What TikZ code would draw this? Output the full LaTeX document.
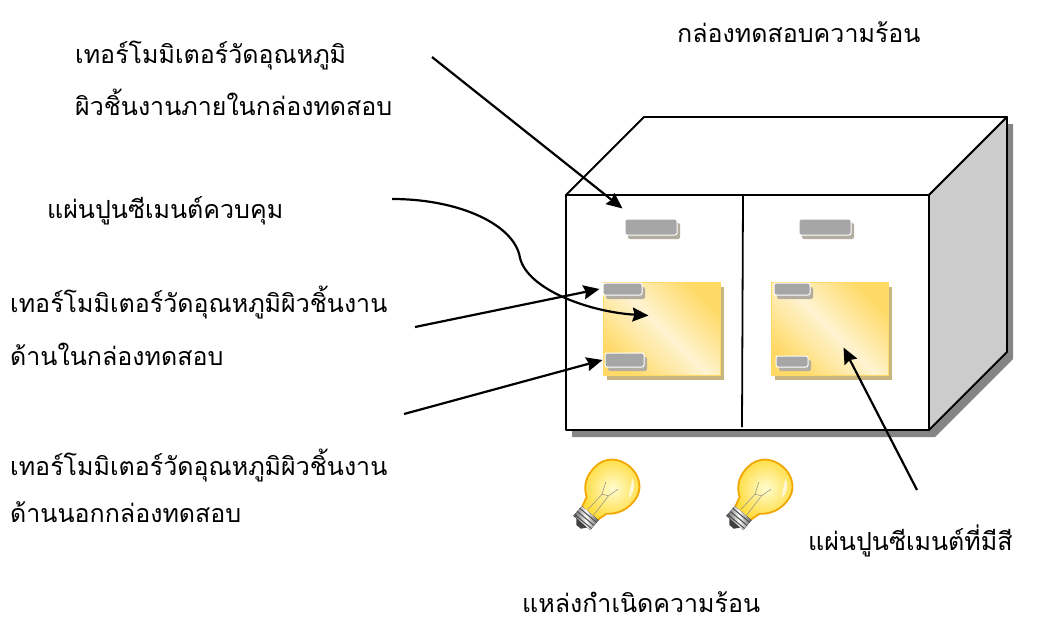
\documentclass[tikz,border=0pt]{standalone}
\usepackage{fontspec}
\newfontfamily\thaifont[Script=Thai]{Loma}
\usepackage{tikz}
\usetikzlibrary{arrows.meta,positioning,shadows}

\definecolor{sensgray}{HTML}{A6A6A6}
\definecolor{sensshade}{HTML}{B2ADA0}
\definecolor{panelgold}{HTML}{FFD966}
\definecolor{panellight}{HTML}{FFF4D2}
\definecolor{panelshade}{HTML}{C8B47E}
\definecolor{sidegray}{HTML}{CCCCCC}
\definecolor{boxshade}{HTML}{858585}
\definecolor{bulbcore}{HTML}{FFFCD0}
\definecolor{bulbedge}{HTML}{FFDC3C}
\definecolor{bulbrim}{HTML}{F2A600}

\tikzset{
  lamp/.pic={
    % glass
    \draw[bulbrim, line width=1.8pt, inner color=bulbcore, outer color=bulbedge]
      (-10,35) -- (-13,24) .. controls (-24,17) and (-27,6) .. (-26,-4)
      .. controls (-25,-19) and (-13,-27) .. (0,-27)
      .. controls (14,-27) and (26,-18) .. (26,-3)
      .. controls (26,8) and (22,17) .. (13,24) -- (10,35) -- cycle;
    \fill[white, opacity=.7] (10,-20) .. controls (18,-16) and (21,-8) .. (20,-2)
      .. controls (16,-8) and (13,-14) .. (10,-20);
    % filament
    \draw[black!45, line width=.5pt] (-4,33) -- (-3,12) -- (3,9) -- (4,33);
    \draw[black!45, line width=.5pt] (-3,12) -- (-8,0) (3,9) -- (6,-2);
    % screw base
    \fill[left color=black!65, right color=black!65, middle color=white]
      (-11,34) rectangle (11,47);
    \foreach \yy in {37,41,45}
      \draw[black!70, line width=1pt] (-11,\yy) -- (11,\yy);
    \fill[black!75] (-7,47) -- (7,47) -- (3,52) -- (-3,52) -- cycle;
  }
}

\begin{document}
\begin{tikzpicture}[x=1pt,y=-1pt,>={Stealth[length=16pt,width=14pt,inset=2pt]},
    boxline/.style={draw=black, line width=1.8pt, line join=round},
    link/.style={->, line width=2.2pt},
    caption/.style={font=\thaifont\fontsize{25}{30}\selectfont, inner sep=0pt, anchor=base west},
    sensor/.style={rectangle, rounded corners=2pt, fill=sensgray, draw=white, line width=1pt,
      inner sep=0pt, drop shadow={shadow xshift=3pt, shadow yshift=-4pt, fill=sensshade, opacity=1}},
    panel/.style={rectangle, inner sep=0pt, minimum width=117pt, minimum height=93pt,
      draw=panelgold, line width=1pt, top color=panelgold, bottom color=panelgold,
      middle color=panellight, shading angle=-45,
      drop shadow={shadow xshift=4pt, shadow yshift=-5pt, fill=panelshade, opacity=1}}]
  \useasboundingbox (0,0) rectangle (1049,622);

  % test box: shadow, top, side, front
  \fill[boxshade] (572,202) -- (650,124) -- (1013,124) -- (1013,359) -- (935,437) -- (572,437) -- cycle;
  \draw[boxline, fill=white] (566,195) -- (644,117) -- (1007,117) -- (929,195) -- cycle;
  \draw[boxline, fill=sidegray] (929,195) -- (1007,117) -- (1007,352) -- (929,430) -- cycle;
  \node[boxline, fill=white, rectangle, inner sep=0pt, minimum width=363pt, minimum height=235pt]
    (front) at (747.5,312.5) {};
  \draw[line width=1.8pt] (743,195) -- (742,427);

  % sensors on the air side
  \node[sensor, minimum width=52pt, minimum height=16pt] (sensTL) at (651,227) {};
  \node[sensor, minimum width=52pt, minimum height=16pt] (sensTR) at (825,227) {};

  % cement plates with surface sensors
  \node[panel] (panelL) at (661.5,328.5) {};
  \node[panel] (panelR) at (829.5,328.5) {};
  \node[sensor, minimum width=39pt, minimum height=12pt] (sensPa) at (622.5,289) {};
  \node[sensor, minimum width=39pt, minimum height=14pt] (sensPb) at (624.5,360) {};
  \node[sensor, minimum width=36pt, minimum height=12pt] (sensQa) at (792,289) {};
  \node[sensor, minimum width=32pt, minimum height=11pt] (sensQb) at (792,361.5) {};

  % heat sources
  \pic[rotate=-40] (lampA) at (612,487) {lamp};
  \pic[rotate=-40] (lampB) at (765,487) {lamp};

  % labels
  \node[caption] (thermTopA) at (75,63) {เทอร์โมมิเตอร์วัดอุณหภูมิ};
  \node[caption] (thermTopB) at ([yshift=-52pt]thermTopA.base west) {ผิวชิ้นงานภายในกล่องทดสอบ};
  \node[caption] (boxTitle) at (677,42) {กล่องทดสอบความร้อน};
  \node[caption] (cementCtrl) at (47,218) {แผ่นปูนซีเมนต์ควบคุม};
  \node[caption] (thermInA) at (10,312) {เทอร์โมมิเตอร์วัดอุณหภูมิผิวชิ้นงาน};
  \node[caption] (thermInB) at ([yshift=-53pt]thermInA.base west) {ด้านในกล่องทดสอบ};
  \node[caption] (thermOutA) at (10,475) {เทอร์โมมิเตอร์วัดอุณหภูมิผิวชิ้นงาน};
  \node[caption] (thermOutB) at ([yshift=-47pt]thermOutA.base west) {ด้านนอกกล่องทดสอบ};
  \node[caption] (cementColor) at (808,550) {แผ่นปูนซีเมนต์ที่มีสี};
  \node[caption] (heatSrc) at (522,612) {แหล่งกำเนิดความร้อน};

  % arrow tails
  \coordinate (thermTopEnd) at (432,57);
  \coordinate (cementEnd) at (392,199);
  \coordinate (thermInEnd) at (415,327);
  \coordinate (thermOutEnd) at (404,414);
  \coordinate (colorEnd) at (917,490);

  \draw[link] (thermTopEnd) -- ([shift={(-2pt,10pt)}]sensTL.north west);
  \draw[link] (cementEnd) .. controls (460,199) and (515,225) .. (520,258)
    .. controls (528,290) and (590,312) .. ([shift={(-13pt,13pt)}]panelL.center);
  \draw[link] (thermInEnd) -- ([xshift=-3pt]sensPa.west);
  \draw[link] (thermOutEnd) -- ([xshift=-2pt]sensPb.west);
  \draw[link] (colorEnd) -- ([shift={(14pt,-19pt)}]panelR.center);
\end{tikzpicture}
\end{document}
